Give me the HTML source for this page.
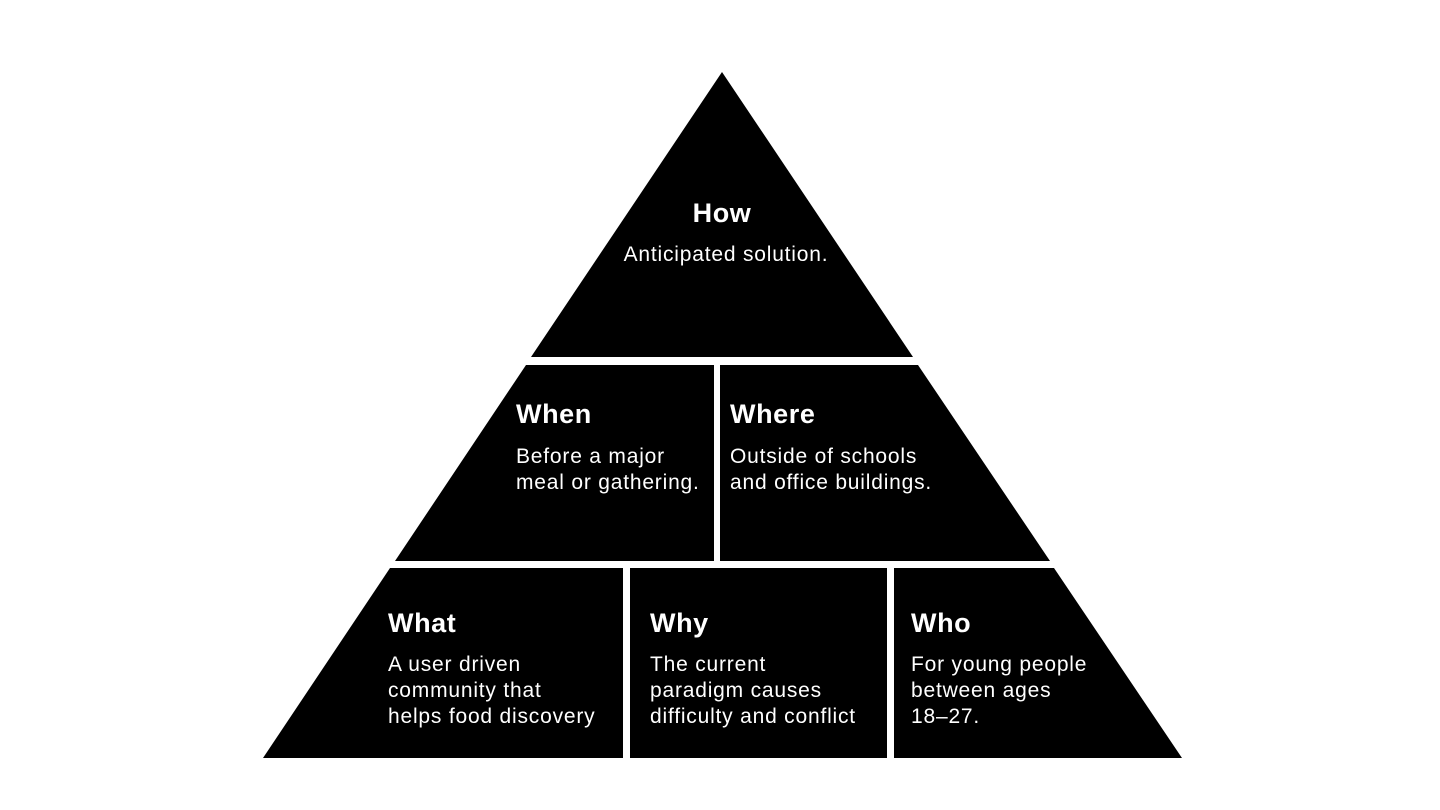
<!DOCTYPE html>
<html><head><meta charset="utf-8"><style>
html,body{margin:0;padding:0;background:#fff;}
svg{display:block;}
text{font-family:"Liberation Sans",Arial,sans-serif;fill:#fff;}
.h{font-weight:bold;font-size:27px;letter-spacing:0.6px;}
.b{font-size:21px;letter-spacing:0.8px;}
</style></head><body>
<svg width="1440" height="810" viewBox="0 0 1440 810">
<rect width="1440" height="810" fill="#fff"/>
<polygon points="722,72 913,357 531,357" fill="#000"/>
<polygon points="526,365 714,365 714,561 395,561" fill="#000"/>
<polygon points="720,365 918,365 1050,561 720,561" fill="#000"/>
<polygon points="390,568 623,568 623,758 263,758" fill="#000"/>
<rect x="630" y="568" width="257" height="190" fill="#000"/>
<polygon points="894,568 1054,568 1182,758 894,758" fill="#000"/>

<text class="h" x="722" y="222" text-anchor="middle">How</text>
<text class="b" x="726" y="261" text-anchor="middle">Anticipated solution.</text>

<text class="h" x="516" y="423">When</text>
<text class="b" x="516" y="463">Before a major</text>
<text class="b" x="516" y="489">meal or gathering.</text>

<text class="h" x="730" y="423">Where</text>
<text class="b" x="730" y="463">Outside of schools</text>
<text class="b" x="730" y="489">and office buildings.</text>

<text class="h" x="388" y="632">What</text>
<text class="b" x="388" y="671">A user driven</text>
<text class="b" x="388" y="697">community that</text>
<text class="b" x="388" y="723">helps food discovery</text>

<text class="h" x="650" y="632">Why</text>
<text class="b" x="650" y="671">The current</text>
<text class="b" x="650" y="697">paradigm causes</text>
<text class="b" x="650" y="723">difficulty and conflict</text>

<text class="h" x="911" y="632">Who</text>
<text class="b" x="911" y="671">For young people</text>
<text class="b" x="911" y="697">between ages</text>
<text class="b" x="911" y="723">18–27.</text>
</svg>
</body></html>
